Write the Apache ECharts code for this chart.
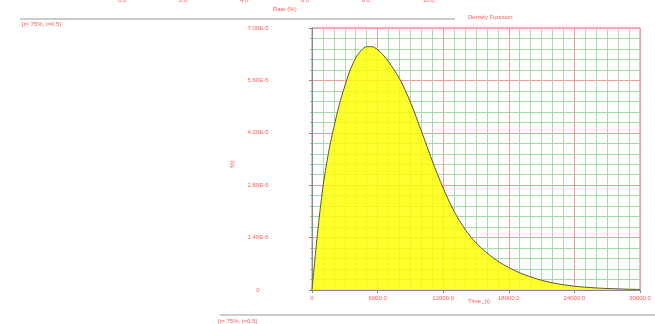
<!DOCTYPE html>
<html>
<head>
<meta charset="utf-8">
<script src="https://cdn.jsdelivr.net/npm/echarts@6/dist/echarts.min.js"></script>
<style>
  html, body { margin: 0; padding: 0; background: #fff; }
  #chart { width: 655px; height: 324px; }
</style>
</head>
<body>
<div id="chart"></div>
<script>
// time values (t) and density f(t)
const timeValues = [0, 500, 1000, 1500, 2000, 2500, 3000, 3500, 4000, 4500, 5000, 5500, 6000, 6500,
  7000, 8000, 9000, 10000, 11000, 12000, 13000, 14000, 15000, 16000, 17000, 18000,
  19000, 20000, 21000, 22000, 23000, 24000, 25000, 26000, 27000, 28000, 29000, 30000]
const density = [0, 1.5e-5, 2.75e-5, 3.65e-5, 4.35e-5, 4.95e-5, 5.45e-5, 5.88e-5, 6.2e-5, 6.4e-5, 6.5e-5, 6.5e-5, 6.42e-5, 6.28e-5,
  6.1e-5, 5.65e-5, 5.02e-5, 4.25e-5, 3.45e-5, 2.72e-5, 2.1e-5, 1.62e-5, 1.26e-5, 0.99e-5, 0.77e-5, 0.6e-5,
  0.46e-5, 0.35e-5, 0.26e-5, 0.19e-5, 0.14e-5, 0.1e-5, 0.075e-5, 0.055e-5, 0.04e-5, 0.03e-5, 0.02e-5, 0.015e-5]
const topTickLabels = ['0.0', '2.0', '4.0', '6.0', '8.0', '10.0']

const red = '#ff5a5a'
const chart = echarts.init(document.getElementById('chart'))

chart.setOption({
  animation: false,
  grid: { left: 312, right: 15, top: 28, bottom: 34, show: true, borderColor: '#999', borderWidth: 1 },
  xAxis: {
    type: 'value',
    min: 0,
    max: 30000,
    interval: 6000,
    axisLine: { show: true, lineStyle: { color: '#888' } },
    axisTick: { show: true, length: 3, lineStyle: { color: '#888' } },
    axisLabel: {
      color: red, fontSize: 6, margin: 5,
      formatter: v => (v === 0 ? '0' : v.toFixed(1)),
    },
    splitLine: { show: true, lineStyle: { color: '#f39a9a', width: 1 } },
    minorTick: { show: false, splitNumber: 6 },
    minorSplitLine: { show: true, lineStyle: { color: '#a6dca6', width: 1 } },
  },
  yAxis: {
    type: 'value',
    min: 0,
    max: 7e-5,
    interval: 1.4e-5,
    axisLine: { show: true, lineStyle: { color: '#888' } },
    axisTick: { show: true, length: 3, lineStyle: { color: '#888' } },
    axisLabel: {
      color: red, fontSize: 6, margin: 54, align: 'center',
      formatter: v => (v === 0 ? '0' : v.toExponential(2).toUpperCase()),
    },
    splitLine: { show: true, lineStyle: { color: '#f39a9a', width: 1 } },
    minorTick: { show: true, splitNumber: 5, length: 2, lineStyle: { color: '#aaa' } },
    minorSplitLine: { show: true, lineStyle: { color: '#a6dca6', width: 1 } },
  },
  series: [
    {
      type: 'line',
      data: timeValues.map((t, i) => [t, density[i]]),
      smooth: 0.3,
      symbol: 'none',
      lineStyle: { color: '#5a5a2a', width: 1 },
      areaStyle: { color: '#ffff00', opacity: 0.82 },
      z: 1,
    },
  ],
  graphic: [
    // pieces of the neighbouring panels at the top
    ...topTickLabels.map((s, i) => ({
      type: 'text', left: 118 + i * 61, top: -3,
      style: { text: s, fill: red, fontSize: 6 },
    })),
    { type: 'text', left: 273, top: 6, style: { text: 'Rate (%)', fill: red, fontSize: 6 } },
    { type: 'line', shape: { x1: 20, y1: 19, x2: 455, y2: 19 }, style: { stroke: '#999', lineWidth: 1 } },
    { type: 'text', left: 468, top: 14, style: { text: 'Density Function', fill: red, fontSize: 6 } },
    { type: 'text', left: 22, top: 21, style: { text: '[t= 75%, t=0.5]', fill: red, fontSize: 6 } },
    // axis names
    { type: 'text', left: 468, top: 298, style: { text: 'Time_(t)', fill: red, fontSize: 6 } },
    { type: 'text', x: 232, y: 164, rotation: Math.PI / 2, style: { text: 'f(t)', fill: red, fontSize: 6, align: 'center', verticalAlign: 'middle' } },
    // bottom neighbouring panel
    { type: 'line', shape: { x1: 220, y1: 315, x2: 655, y2: 315 }, style: { stroke: '#999', lineWidth: 1 } },
    { type: 'text', left: 218, top: 318, style: { text: '[t= 75%, t=0.5]', fill: red, fontSize: 6 } },
  ],
})
</script>
</body>
</html>
